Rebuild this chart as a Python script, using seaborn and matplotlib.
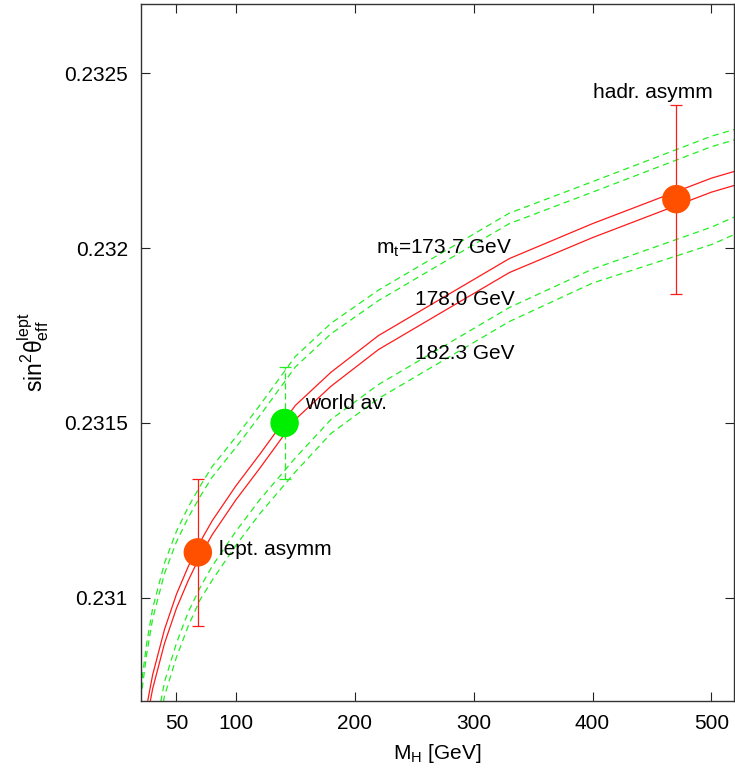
import matplotlib
matplotlib.use("Agg")
import matplotlib.pyplot as plt
import seaborn as sns
import pandas as pd

# ---- data ----
mh_grid = [20, 25, 30, 40, 50, 60, 70, 80, 100, 120, 150, 180, 220, 330, 400, 500, 520]

# top-quark mass 173.7 GeV (green dashed pair, upper)
g1 = [0.23074, 0.23087, 0.23097, 0.23110, 0.23119, 0.23126, 0.23132, 0.231375, 0.23146,
      0.23155, 0.23169, 0.231785, 0.23188, 0.23210, 0.23219, 0.23232, 0.23234]
g2 = [0.23071, 0.23084, 0.23094, 0.23107, 0.23116, 0.23123, 0.23129, 0.231345, 0.23143,
      0.23152, 0.23166, 0.231755, 0.23185, 0.23207, 0.23216, 0.23229, 0.23231]
# 178.0 GeV (red solid pair)
r1 = [0.23058, 0.23069, 0.23078, 0.23091, 0.23101, 0.23109, 0.23116, 0.23122, 0.23132,
      0.23141, 0.23155, 0.231645, 0.23175, 0.23197, 0.23207, 0.23220, 0.23222]
r2 = [0.23054, 0.23065, 0.23074, 0.23087, 0.23097, 0.23105, 0.23112, 0.23118, 0.23128,
      0.23137, 0.23151, 0.231605, 0.23171, 0.23193, 0.23203, 0.23216, 0.23218]
# 182.3 GeV (green dashed pair, lower)
g3 = [0.23035, 0.23047, 0.23058, 0.23076, 0.23087, 0.23096, 0.23103, 0.23109, 0.23119,
      0.23128, 0.23140, 0.23151, 0.23161, 0.23183, 0.23194, 0.23206, 0.23209]
g4 = [0.23031, 0.23043, 0.23054, 0.23072, 0.23083, 0.23092, 0.230995, 0.23105, 0.23115,
      0.23124, 0.23136, 0.23147, 0.23157, 0.23179, 0.23190, 0.23201, 0.23204]

meas_names = ["lept. asymm", "world av.", "hadr. asymm"]
meas_mh = [68, 141, 470.5]
meas_val = [0.23113, 0.23150, 0.23214]
meas_err = [0.00021, 0.00016, 0.00027]

curve_labels = ["m$_{t}$=173.7 GeV", "178.0 GeV", "182.3 GeV"]
xticks = [50, 100, 200, 300, 400, 500]
yticks = [0.231, 0.2315, 0.232, 0.2325]
ytick_labels = ["0.231", "0.2315", "0.232", "0.2325"]

# ---- styling ----
sns.set_theme(style="ticks")
plt.rcParams["font.family"] = ["Liberation Sans", "DejaVu Sans"]
plt.rcParams["mathtext.default"] = "regular"
plt.rcParams["font.size"] = 15
plt.rcParams["text.color"] = "black"
plt.rcParams["axes.labelcolor"] = "black"

W, H = 735, 774
fig = plt.figure(figsize=(W / 100, H / 100), dpi=100)
ax = fig.add_axes([141 / W, 73 / H, (734 - 141) / W, (701 - 4) / H])

RED = "#ff1a1a"
GREEN = "#22ee22"
ORANGE = "#ff5000"
PTGREEN = "#00ee00"

curves = {"g1": g1, "g2": g2, "r1": r1, "r2": r2, "g3": g3, "g4": g4}
for name, vals in curves.items():
    df = pd.DataFrame({"MH": mh_grid, "s": vals})
    if name.startswith("r"):
        sns.lineplot(data=df, x="MH", y="s", ax=ax, color=RED, lw=0.9, sort=False,
                     estimator=None, zorder=2)
    else:
        sns.lineplot(data=df, x="MH", y="s", ax=ax, color=GREEN, lw=0.9, sort=False,
                     estimator=None, dashes=False, zorder=2, linestyle=(0, (5, 3.5)))

# error bars
cols_err = [RED, GREEN, RED]
ls_err = ["-", (0, (5, 3)), "-"]
for x, y, e, c, ls in zip(meas_mh, meas_val, meas_err, cols_err, ls_err):
    _, caps, bars = ax.errorbar(x, y, yerr=e, fmt="none", ecolor=c, elinewidth=0.9,
                                capsize=4, capthick=0.9, zorder=3)
    for b in bars:
        b.set_linestyle(ls)

mdf = pd.DataFrame({"MH": meas_mh, "s": meas_val, "name": meas_names})
sns.scatterplot(data=mdf, x="MH", y="s", hue="name",
                palette={"lept. asymm": ORANGE, "world av.": PTGREEN, "hadr. asymm": ORANGE},
                s=420, linewidth=0, ax=ax, legend=False, zorder=4)

# text labels
ax.text(85.5, 0.231137, meas_names[0], ha="left", va="center", fontsize=15)
ax.text(158, 0.231557, meas_names[1], ha="left", va="center", fontsize=15)
ax.text(400.5, 0.232444, meas_names[2], ha="left", va="center", fontsize=15)
ax.text(217.5, 0.232, curve_labels[0], ha="left", va="center", fontsize=15)
ax.text(251, 0.231852, curve_labels[1], ha="left", va="center", fontsize=15)
ax.text(251, 0.2317, curve_labels[2], ha="left", va="center", fontsize=15)

ax.set_xlim(20.2, 519.0)
ax.set_ylim(0.230705, 0.232698)
ax.set_xticks(xticks)
ax.set_xticklabels([str(t) for t in xticks])
ax.set_yticks(yticks)
ax.set_yticklabels(ytick_labels)
ax.tick_params(direction="in", length=6.5, width=0.8, top=True, right=True,
               labelsize=15, pad=9.5, colors="#222222", labelcolor="black")
for sp in ax.spines.values():
    sp.set_color("#333333")
    sp.set_linewidth(1.0)

ax.set_xlabel("M$_{H}$ [GeV]", fontsize=15, labelpad=6, color="black")
ax.set_ylabel("")
fig.text(33 / W, 1 - 352 / H, r"sin$^{2}$θ$_{eff}^{lept}$", rotation=90,
         ha="center", va="center", fontsize=16.5, color="black")

fig.savefig("out.png", dpi=100, facecolor="white")
